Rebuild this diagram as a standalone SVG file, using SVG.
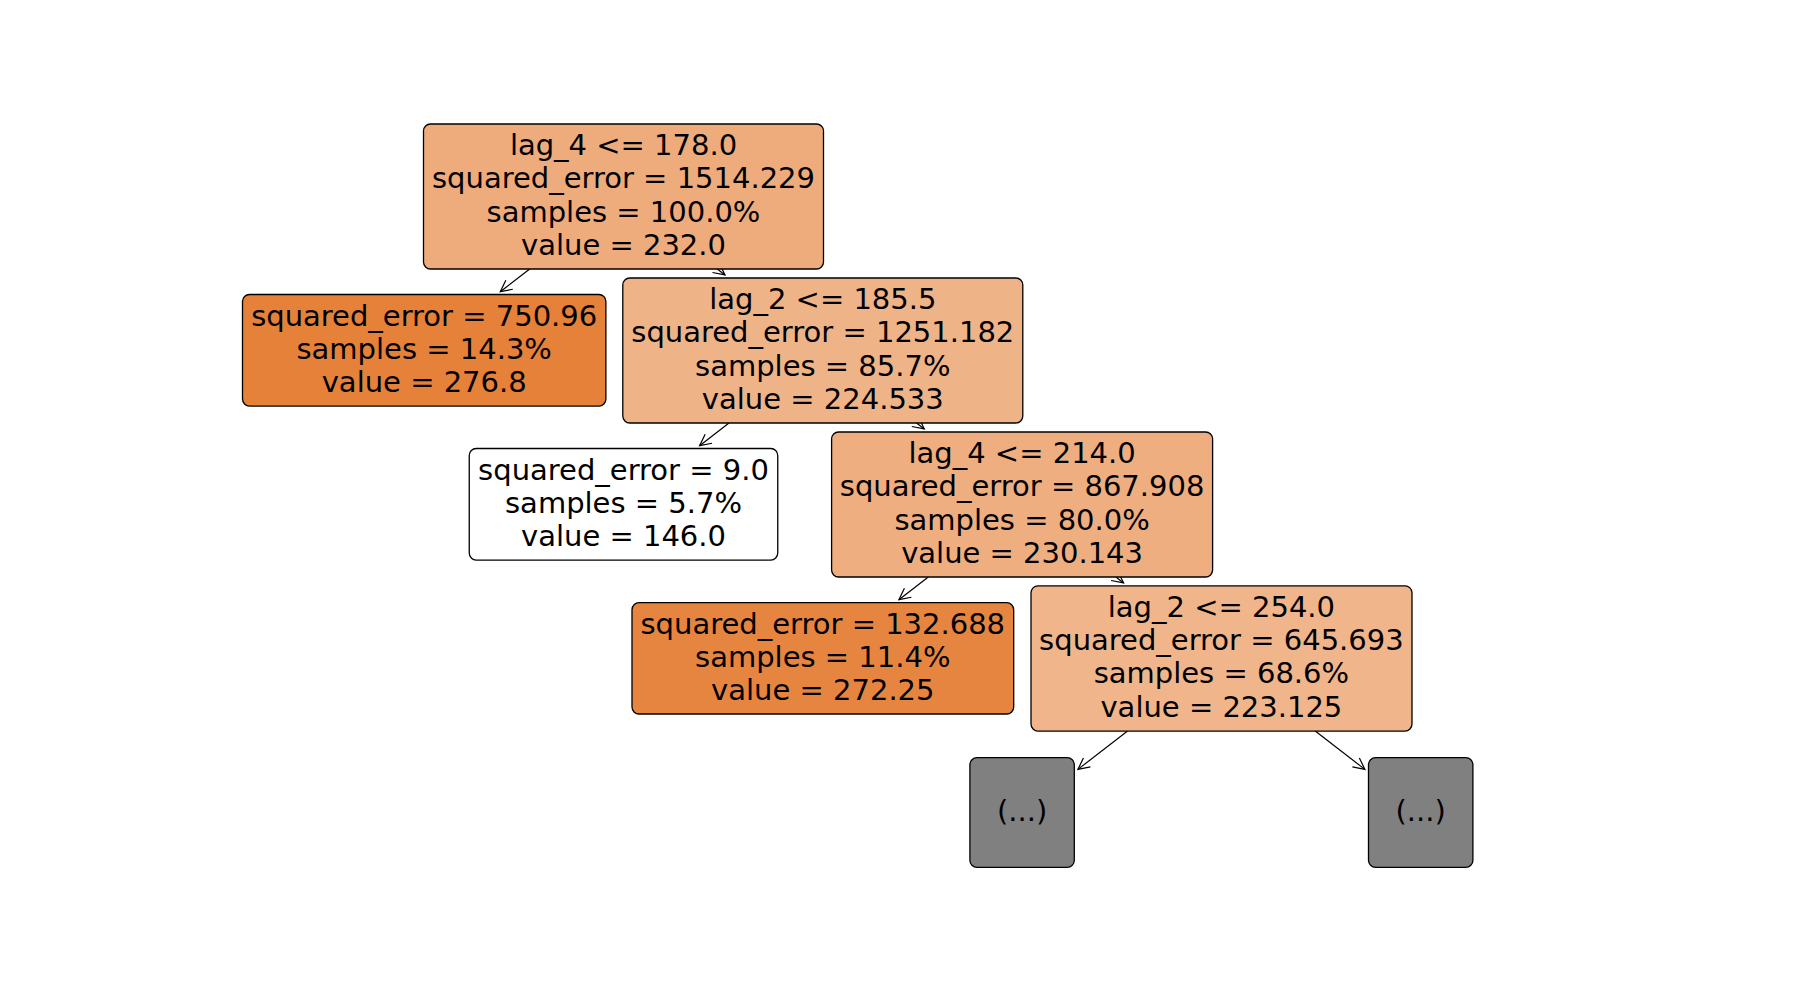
<svg xmlns="http://www.w3.org/2000/svg" width="1800" height="1000" viewBox="0 0 1800 1000">
<style>
.box{stroke:#000;stroke-width:1.3;}
.t{font-family:"DejaVu Sans","Liberation Sans",sans-serif;font-size:29px;fill:#000;text-anchor:middle;}
.edge{stroke:#000;stroke-width:1.2;fill:none;marker-end:url(#arr);}
</style>
<defs>
<marker id="arr" markerUnits="userSpaceOnUse" viewBox="-13 -7 15 14" refX="0" refY="0" markerWidth="15" markerHeight="14" orient="auto" overflow="visible">
<path d="M -11.4 -5.7 L 0 0 L -11.4 5.7" fill="none" stroke="#000" stroke-width="1.2"/>
</marker>
</defs>
<rect width="1800" height="1000" fill="#fff"/>
<g id="connectors">
<line class="edge" x1="529.7" y1="269" x2="500.3" y2="291.7"/>
<line class="edge" x1="717.3" y1="269" x2="725.0" y2="274.9"/>
<line class="edge" x1="729.0" y1="423" x2="699.6" y2="445.7"/>
<line class="edge" x1="916.6" y1="423" x2="924.3" y2="428.9"/>
<line class="edge" x1="928.3" y1="577" x2="898.9" y2="599.7"/>
<line class="edge" x1="1115.9" y1="577" x2="1123.6" y2="582.9"/>
<line class="edge" x1="1127.6" y1="731" x2="1077.9" y2="769.4"/>
<line class="edge" x1="1315.2" y1="731" x2="1364.9" y2="769.4"/>
</g>
<g id="node0">
<rect class="box" x="423.5" y="124" width="400" height="145" rx="7" fill="#eeac7d"/>
<text class="t" x="623.5" y="154.9">lag_4 &lt;= 178.0</text>
<text class="t" x="623.5" y="188.2">squared_error = 1514.229</text>
<text class="t" x="623.5" y="221.5">samples = 100.0%</text>
<text class="t" x="623.5" y="254.8">value = 232.0</text>
</g>
<g id="node1">
<rect class="box" x="242.5" y="294.5" width="363.4" height="111.6" rx="7" fill="#e58139"/>
<text class="t" x="424.2" y="325.5">squared_error = 750.96</text>
<text class="t" x="424.2" y="358.8">samples = 14.3%</text>
<text class="t" x="424.2" y="392.1">value = 276.8</text>
</g>
<g id="node2">
<rect class="box" x="622.8" y="278" width="400" height="145" rx="7" fill="#efb388"/>
<text class="t" x="822.8" y="308.9">lag_2 &lt;= 185.5</text>
<text class="t" x="822.8" y="342.2">squared_error = 1251.182</text>
<text class="t" x="822.8" y="375.5">samples = 85.7%</text>
<text class="t" x="822.8" y="408.8">value = 224.533</text>
</g>
<g id="node3">
<rect class="box" x="469.25" y="448.5" width="308.5" height="111.6" rx="7" fill="#ffffff"/>
<text class="t" x="623.5" y="479.5">squared_error = 9.0</text>
<text class="t" x="623.5" y="512.8">samples = 5.7%</text>
<text class="t" x="623.5" y="546.1">value = 146.0</text>
</g>
<g id="node4">
<rect class="box" x="831.6" y="432" width="381" height="145" rx="7" fill="#eeae80"/>
<text class="t" x="1022.1" y="462.9">lag_4 &lt;= 214.0</text>
<text class="t" x="1022.1" y="496.2">squared_error = 867.908</text>
<text class="t" x="1022.1" y="529.5">samples = 80.0%</text>
<text class="t" x="1022.1" y="562.8">value = 230.143</text>
</g>
<g id="node5">
<rect class="box" x="632" y="602.7" width="381.7" height="111.3" rx="7" fill="#e68540"/>
<text class="t" x="822.8" y="633.5">squared_error = 132.688</text>
<text class="t" x="822.8" y="666.8">samples = 11.4%</text>
<text class="t" x="822.8" y="700.1">value = 272.25</text>
</g>
<g id="node6">
<rect class="box" x="1031" y="585.8" width="381" height="145.3" rx="7" fill="#f0b58a"/>
<text class="t" x="1221.4" y="616.8">lag_2 &lt;= 254.0</text>
<text class="t" x="1221.4" y="650.1">squared_error = 645.693</text>
<text class="t" x="1221.4" y="683.4">samples = 68.6%</text>
<text class="t" x="1221.4" y="716.7">value = 223.125</text>
</g>
<g id="node7">
<rect class="box" x="969.9" y="757.7" width="104.4" height="109.6" rx="7" fill="#808080"/>
<text class="t" x="1022.1" y="821">(...)</text>
</g>
<g id="node8">
<rect class="box" x="1368.5" y="757.7" width="104.4" height="109.6" rx="7" fill="#808080"/>
<text class="t" x="1420.7" y="821">(...)</text>
</g>
</svg>
